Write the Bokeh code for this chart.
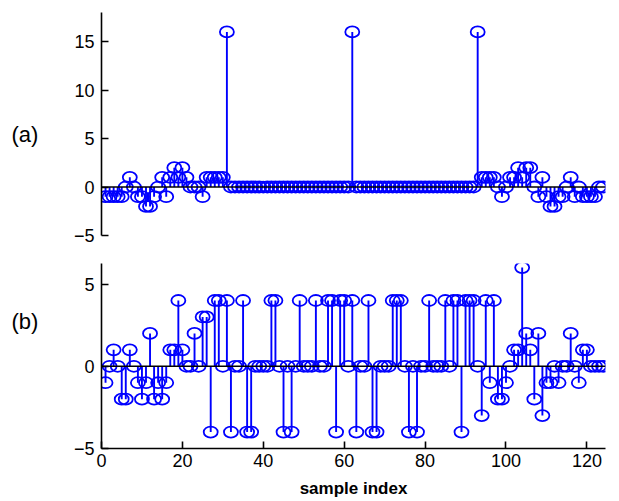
from bokeh.plotting import figure
from bokeh.models import Range1d, Span, ColumnDataSource, FixedTicker, Div
from bokeh.layouts import column, row
from bokeh.embed import file_html
from bokeh.resources import INLINE

# ---------------- data ----------------
a_head = [-1, -1, -1, -1, -1, 0, 1, 0, -1, -1, -2, -2, -1, 0, 1, -1, 1, 2, 1, 2,
          1, 0, 0, 0, -1, 1, 1, 1, 1, 1, 16]                      # samples 1..31
a_mid = [0] * 30 + [16] + [0] * 30 + [16]                         # samples 32..93
a_tail = [1, 1, 1, 1, 0, -1, 0, 1, 1, 2, 1, 2, 2, 0, -1, 1, -1, -2, -2, -1,
          -1, 0, 1, -1, 0, -1, -1, -1, -1, 0, 0]                  # samples 94..124
series_a = a_head + a_mid + a_tail

series_b = [-1, 0, 1, 0, -2, -2, 1, 0, -1, -2, -1, 2, -2, -1, -2, -1, 1, 1, 4, 1,
            0, 0, 2, 0, 3, 3, -4, 4, 4, 0, 4, -4, 0, 0, 4, -4, -4, 0, 0, 0,
            0, 4, 4, 0, -4, 0, -4, 0, 4, 0, 0, 0, 4, 0, 0, 4, 4, -4, 4, 4,
            0, 4, -4, 0, 0, 4, -4, -4, 0, 0, 0, 4, 4, 4, 0, -4, 0, -4, 0, 0,
            4, 0, 0, 0, 4, 0, 4, 4, -4, 4, 4, 4, 0, -3, 4, -1, 4, -2, -2, -1,
            0, 1, 1, 6, 2, 1, -2, 2, -3, -1, -1, 0, -1, 0, 0, 2, 0, -1, 1, 1,
            0, 0, 0, 0]
sample_index = list(range(1, len(series_a) + 1))

x_ticks = [0, 20, 40, 60, 80, 100, 120]
a_ticks = [-5, 0, 5, 10, 15]
b_ticks = [-5, 0, 5]
x_label = "sample index"
panel_labels = ["(a)", "(b)"]

BLUE = "#0000FF"
FONT = "Liberation Sans"
LEFT_W = 45


def stem_panel(values, yrange, yticks, fh, top, bottom, show_x):
    p = figure(frame_width=504, frame_height=fh, output_backend="svg",
               toolbar_location=None, x_range=Range1d(0, 124.6),
               y_range=Range1d(*yrange), min_border_left=101 - LEFT_W,
               min_border_right=6, min_border_top=top, min_border_bottom=bottom)
    p.outline_line_color = None
    p.grid.visible = False
    src = ColumnDataSource(dict(x=sample_index[:len(values)], y=values,
                                z=[0] * len(values)))
    p.segment(x0="x", y0="z", x1="x", y1="y", source=src, line_color=BLUE,
              line_width=1.9)
    p.ellipse(x="x", y="y", width=14, height=11, width_units="screen",
              height_units="screen", source=src, fill_color=None,
              line_color=BLUE, line_width=1.8)
    p.add_layout(Span(location=0, dimension="width", line_color="black",
                      line_width=1.6))
    for ax in (p.xaxis[0], p.yaxis[0]):
        ax.axis_line_color = "black"
        ax.axis_line_width = 1.6
        ax.major_tick_in = 7
        ax.major_tick_out = 0
        ax.major_tick_line_width = 1.6
        ax.minor_tick_line_color = None
        ax.major_label_text_font = FONT
        ax.major_label_text_font_size = "18px"
        ax.major_label_text_color = "black"
    p.yaxis[0].ticker = FixedTicker(ticks=yticks)
    p.yaxis[0].major_label_standoff = 7
    p.xaxis[0].ticker = FixedTicker(ticks=x_ticks)
    p.xaxis[0].major_label_standoff = 5
    if show_x:
        p.xaxis[0].axis_label = x_label
        p.xaxis[0].axis_label_text_font = FONT
        p.xaxis[0].axis_label_text_font_style = "bold"
        p.xaxis[0].axis_label_text_font_size = "17px"
        p.xaxis[0].axis_label_standoff = 9
        p.xaxis[0].axis_label_text_color = "black"
    else:
        p.xaxis.visible = False
    return p


top = stem_panel(series_a, (-5, 18), a_ticks, 223, 12, 20, False)
bot = stem_panel(series_b, (-5, 6.25), b_ticks, 185, 8, 38, True)

tag_style = ("position:absolute; left:{x}px; top:{y}px; width:30px; text-align:center;"
             " font-family:'Liberation Sans'; font-size:22px; line-height:26px; color:black;")
tags_html = "".join(
    '<div style="%s">%s</div>' % (tag_style.format(x=x, y=y), t)
    for t, x, y in zip(panel_labels, [10, 10], [122, 309])
)
tags = Div(text='<div style="position:relative; width:%dpx; height:480px;">%s</div>'
           % (LEFT_W, tags_html), width=LEFT_W, height=480, margin=0)

layout = row(tags, column(top, bot))
open("out.html", "w").write(file_html(layout, INLINE))
